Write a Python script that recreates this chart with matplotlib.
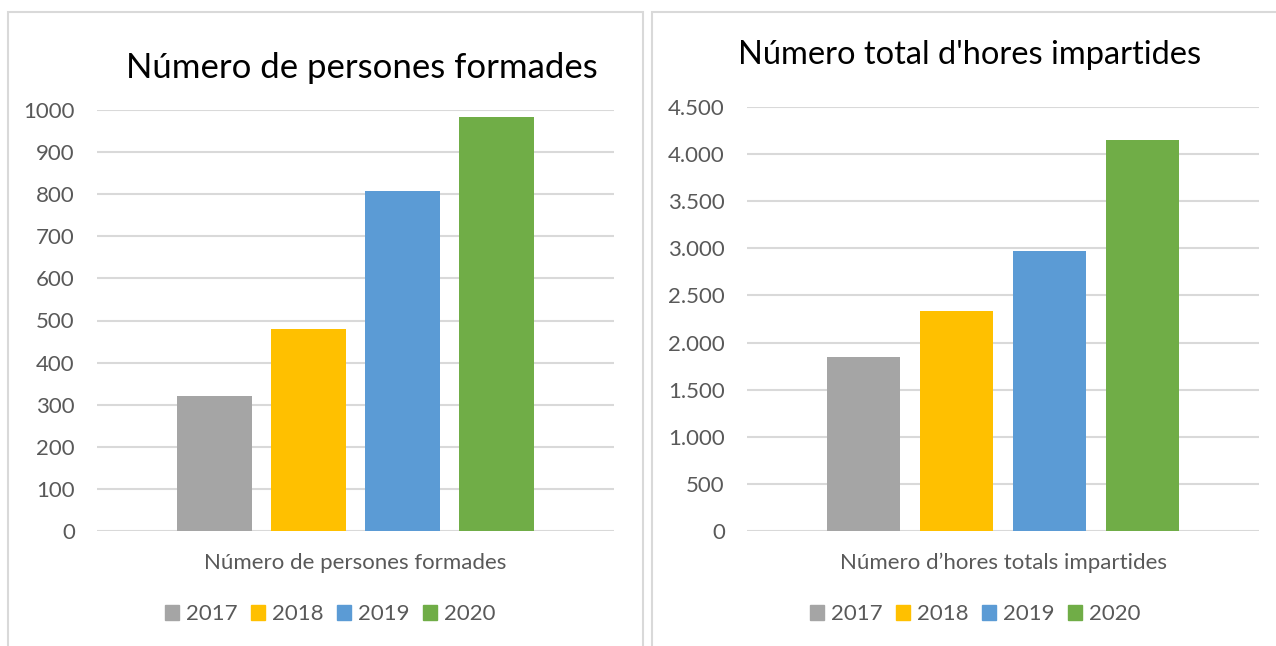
import matplotlib.pyplot as plt
from matplotlib.patches import Rectangle
from matplotlib.ticker import FuncFormatter

# dades
anys = ["2017", "2018", "2019", "2020"]
colors = ["#A5A5A5", "#FFC000", "#5B9BD5", "#70AD47"]
persones = [320, 480, 808, 983]
hores = [1848, 2335, 2972, 4150]

plt.rcParams['font.family'] = ['Lato', 'DejaVu Sans']
gris_text = "#595959"
gris_linia = "#D9D9D9"

fig = plt.figure(figsize=(12.76, 6.46), dpi=100)
W, H = 1276, 646

# marcs dels dos gràfics
fig.patches.append(Rectangle((8 / W, -0.1), 635 / W, 1.1 - 12 / H, transform=fig.transFigure,
                             fill=False, edgecolor=gris_linia, linewidth=1.5))
fig.patches.append(Rectangle((652 / W, -0.1), 640 / W, 1.1 - 12 / H, transform=fig.transFigure,
                             fill=False, edgecolor=gris_linia, linewidth=1.5))


def grafic(rect, valors, ymax, pas, fmt):
    ax = fig.add_axes(rect)
    x = range(len(valors))
    ax.bar(x, valors, width=0.79, color=colors, zorder=3)
    ax.set_xlim(-1.25, 4.25)
    ax.set_ylim(0, ymax)
    ax.set_yticks(range(0, ymax + 1, pas))
    ax.yaxis.set_major_formatter(FuncFormatter(fmt))
    ax.set_xticks([])
    ax.grid(axis='y', color=gris_linia, linewidth=1.5, zorder=0)
    for s in ax.spines.values():
        s.set_visible(False)
    ax.tick_params(axis='y', length=0, pad=16, labelsize=16, labelcolor=gris_text)
    return ax


ax1 = grafic([97 / W, 1 - 531 / H, 517 / W, 421 / H], persones, 1000, 100, lambda v, p: f"{int(v)}")
ax2 = grafic([747 / W, 1 - 531 / H, 512 / W, 424 / H], hores, 4500, 500,
             lambda v, p: f"{int(v):,}".replace(",", "."))

# títols
fig.text(362 / W, 1 - 68 / H, "Número de persones formades", ha='center', va='center',
         fontsize=25, color="black")
fig.text(970 / W, 1 - 55 / H, "Número total d'hores impartides", ha='center', va='center',
         fontsize=23.5, color="black")

# etiquetes de categoria
fig.text(355 / W, 1 - 563 / H, "Número de persones formades", ha='center', va='center',
         fontsize=16, color=gris_text)
fig.text(1003 / W, 1 - 563 / H, "Número d’hores totals impartides", ha='center', va='center',
         fontsize=16, color=gris_text)

# llegendes
handles = [Rectangle((0, 0), 1, 1, color=c) for c in colors]
for cx in (330 / W, 975 / W):
    fig.legend(handles, anys, loc='center', bbox_to_anchor=(cx, 1 - 614 / H), ncol=4,
               frameon=False, fontsize=16, labelcolor=gris_text, handlelength=0.65,
               handleheight=0.65, handletextpad=0.3, columnspacing=0.6)

fig.savefig("out.png", dpi=100)
